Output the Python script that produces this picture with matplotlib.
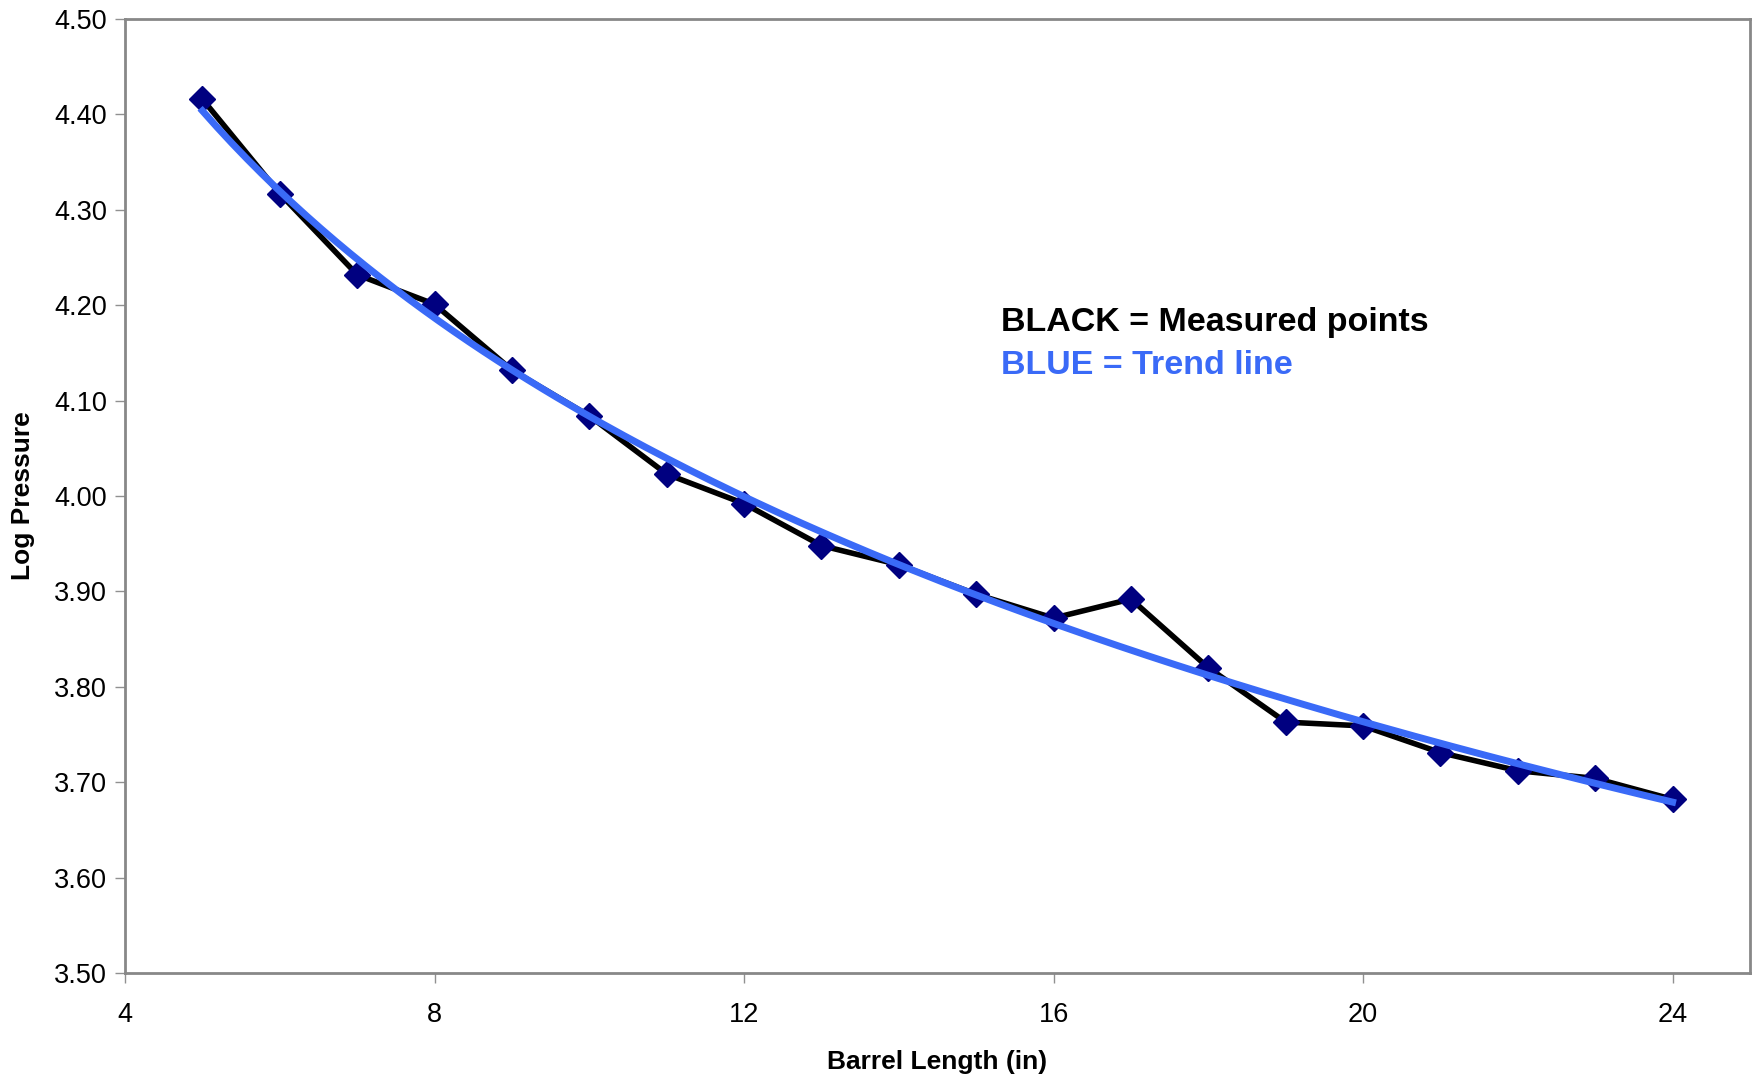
import numpy as np
import matplotlib
matplotlib.use('Agg')
import matplotlib.pyplot as plt

# measured log pressure vs barrel length
barrel_len = [5, 6, 7, 8, 9, 10, 11, 12, 13, 14, 15, 16, 17, 18, 19, 20, 21, 22, 23, 24]
log_press = [4.416, 4.317, 4.232, 4.201, 4.132, 4.084, 4.023, 3.992, 3.948, 3.928,
             3.897, 3.872, 3.892, 3.820, 3.763, 3.759, 3.731, 3.712, 3.704, 3.682]

x_ticks = [4, 8, 12, 16, 20, 24]
y_ticks = [3.50, 3.60, 3.70, 3.80, 3.90, 4.00, 4.10, 4.20, 4.30, 4.40, 4.50]

plt.rcParams['font.family'] = ['Liberation Sans', 'DejaVu Sans']

fig = plt.figure(figsize=(17.54, 10.75), dpi=100)
ax = fig.add_axes([0.0713, 0.0949, 0.9264, 0.8874])

ax.plot(barrel_len, log_press, color='black', lw=4, marker='D', markersize=13,
        markerfacecolor='#000080', markeredgecolor='#000080', zorder=3)

# logarithmic trendline (as in the spreadsheet)
b, a = np.polyfit(np.log(barrel_len), log_press, 1)
xs = np.linspace(barrel_len[0], barrel_len[-1], 200)
ax.plot(xs, a + b*np.log(xs), color='#3a6af7', lw=5, zorder=4)

ax.set_xlim(4, 25)
ax.set_ylim(3.5, 4.5)
ax.set_xticks(x_ticks)
ax.set_yticks(y_ticks)
ax.set_yticklabels(['%.2f' % v for v in y_ticks])
ax.tick_params(labelsize=19.5, color='#909090', length=7, width=1, pad=6)
ax.tick_params(axis='x', pad=14)
for s in ax.spines.values():
    s.set_color('#888888')
    s.set_linewidth(2)

ax.set_xlabel('Barrel Length (in)', fontsize=19, fontweight='bold', labelpad=16)
ax.set_ylabel('Log Pressure', fontsize=19, fontweight='bold', labelpad=14)

ax.text(0.539, 0.682, 'BLACK = Measured points', transform=ax.transAxes,
        fontsize=24.5, fontweight='bold', color='black', va='center')
ax.text(0.539, 0.637, 'BLUE = Trend line', transform=ax.transAxes,
        fontsize=24.5, fontweight='bold', color='#3a6af7', va='center')

fig.savefig('out.png', dpi=100)
